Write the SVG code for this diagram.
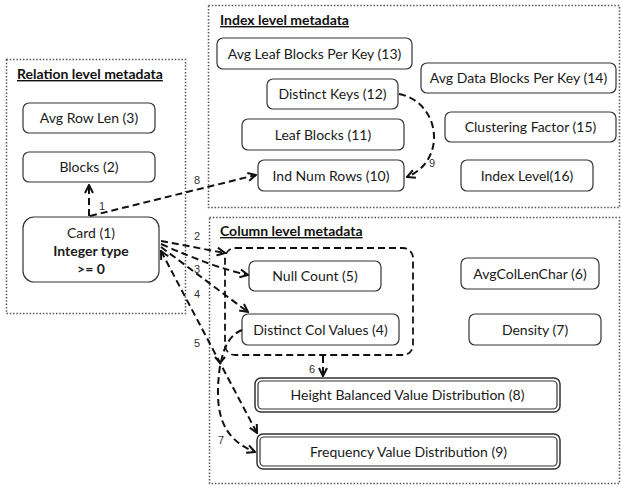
<svg xmlns="http://www.w3.org/2000/svg" width="621" height="487" viewBox="0 0 621 487">
<defs>
<marker id="ah" viewBox="0 0 10 10" refX="9" refY="5" markerWidth="10" markerHeight="10" markerUnits="userSpaceOnUse" orient="auto-start-reverse">
<path d="M1,1 L9,5 L1,9" fill="none" stroke="#111" stroke-width="2"/>
</marker>
<style>
.cont{fill:none;stroke:#555;stroke-width:1.5;stroke-dasharray:1.5 1.8}
.title{font-family:Lato,"Liberation Sans",sans-serif;font-size:14px;font-weight:bold;text-decoration:underline;fill:#111}
.box{fill:#fff;stroke:#333;stroke-width:1.2}
.t{font-family:Lato,"Liberation Sans",sans-serif;font-size:14px;fill:#1a1a1a;text-anchor:middle}
.b{font-weight:bold}
.c{fill:none;stroke:#111;stroke-width:2;stroke-dasharray:7 4}
.lbl{font-family:"Liberation Sans",Arial,sans-serif;font-size:11px;fill:#333}
</style>
</defs>
<rect width="621" height="487" fill="#fff"/>

<g id="relation-level">
<rect class="cont" x="6.5" y="59.5" width="179" height="254"/>
<text class="title" x="17" y="79">Relation level metadata</text>
</g>
<g id="index-level">
<rect class="cont" x="208.5" y="5.5" width="411" height="202"/>
<text class="title" x="220" y="25">Index level metadata</text>
</g>
<g id="column-level">
<rect class="cont" x="209.5" y="217.5" width="410" height="266"/>
<text class="title" x="220" y="236">Column level metadata</text>
</g>

<g id="n3"><rect class="box" x="23" y="103" width="132" height="30" rx="6"/><text class="t" x="89" y="123">Avg Row Len (3)</text></g>
<g id="n2"><rect class="box" x="23" y="152" width="132" height="30" rx="6"/><text class="t" x="89" y="172">Blocks (2)</text></g>
<g id="n1"><rect class="box" x="23" y="217" width="136" height="65" rx="11"/>
<text class="t" x="91" y="238">Card (1)</text>
<text class="t b" x="91" y="256">Integer type</text>
<text class="t b" x="91" y="274">&gt;= 0</text></g>

<g id="n13"><rect class="box" x="217" y="38" width="195" height="31" rx="6"/><text class="t" x="314.5" y="59">Avg Leaf Blocks Per Key (13)</text></g>
<g id="n14"><rect class="box" x="421" y="63" width="195" height="30" rx="6"/><text class="t" x="518.5" y="83">Avg Data Blocks Per Key (14)</text></g>
<g id="n12"><rect class="box" x="267" y="79" width="131" height="30" rx="6"/><text class="t" x="332.5" y="99">Distinct Keys (12)</text></g>
<g id="n15"><rect class="box" x="445" y="112" width="171" height="30" rx="6"/><text class="t" x="530.5" y="132">Clustering Factor (15)</text></g>
<g id="n11"><rect class="box" x="242" y="119" width="162" height="31" rx="6"/><text class="t" x="323" y="140">Leaf Blocks (11)</text></g>
<g id="n10"><rect class="box" x="258" y="160" width="146" height="31" rx="6"/><text class="t" x="331" y="181">Ind Num Rows (10)</text></g>
<g id="n16"><rect class="box" x="461" y="160" width="132" height="31" rx="6"/><text class="t" x="527" y="181">Index Level(16)</text></g>

<g id="group-5-4"><rect class="c" x="225" y="248" width="188" height="107" rx="10" style="stroke-width:1.8"/></g>
<g id="n5"><rect class="box" x="249" y="261" width="132" height="30" rx="6"/><text class="t" x="315" y="281">Null Count (5)</text></g>
<g id="n6"><rect class="box" x="461" y="258" width="138" height="31" rx="6"/><text class="t" x="530" y="279">AvgColLenChar (6)</text></g>
<g id="n4"><rect class="box" x="242" y="314" width="157" height="31" rx="6"/><text class="t" x="320.5" y="335">Distinct Col Values (4)</text></g>
<g id="n7"><rect class="box" x="469" y="314" width="132" height="31" rx="6"/><text class="t" x="535" y="335">Density (7)</text></g>
<g id="n8"><rect class="box" x="255" y="378" width="305" height="34" rx="6" style="stroke-width:1.5"/><rect class="box" x="258" y="381" width="299" height="28" rx="4"/><text class="t" x="407.5" y="400">Height Balanced Value Distribution (8)</text></g>
<g id="n9"><rect class="box" x="257" y="434" width="303" height="35" rx="6" style="stroke-width:1.5"/><rect class="box" x="260" y="437" width="297" height="29" rx="4"/><text class="t" x="408.5" y="457">Frequency Value Distribution (9)</text></g>

<g id="connectors">
<path class="c" d="M89,216 L89,185" marker-end="url(#ah)"/>
<path class="c" d="M90,216 L256,175" marker-end="url(#ah)"/>
<path class="c" d="M161,241 L225,253" marker-end="url(#ah)"/>
<path class="c" d="M161,244 Q215,268 248,275" marker-end="url(#ah)"/>
<path class="c" d="M161,247 L248,312" marker-end="url(#ah)"/>
<path class="c" d="M161,251 L257,433" marker-start="url(#ah)" marker-end="url(#ah)"/>
<path class="c" d="M242,330 Q226,336 221,362"/>
<path class="c" d="M220,366 C214,410 220,438 255,452" marker-end="url(#ah)"/>
<path class="c" d="M323,356 L323,376" marker-end="url(#ah)"/>
<path class="c" d="M399,94 C440,102 448,160 407,177" marker-end="url(#ah)"/>
<path d="M215,357 L220,363 L225,357" fill="none" stroke="#111" stroke-width="2"/>
<text class="lbl" x="99" y="210">1</text>
<text class="lbl" x="194" y="184">8</text>
<text class="lbl" x="194" y="240">2</text>
<text class="lbl" x="194" y="273">3</text>
<text class="lbl" x="194" y="298">4</text>
<text class="lbl" x="194" y="347">5</text>
<text class="lbl" x="309" y="373">6</text>
<text class="lbl" x="218" y="444">7</text>
<text class="lbl" x="429" y="167">9</text>
</g>
</svg>
